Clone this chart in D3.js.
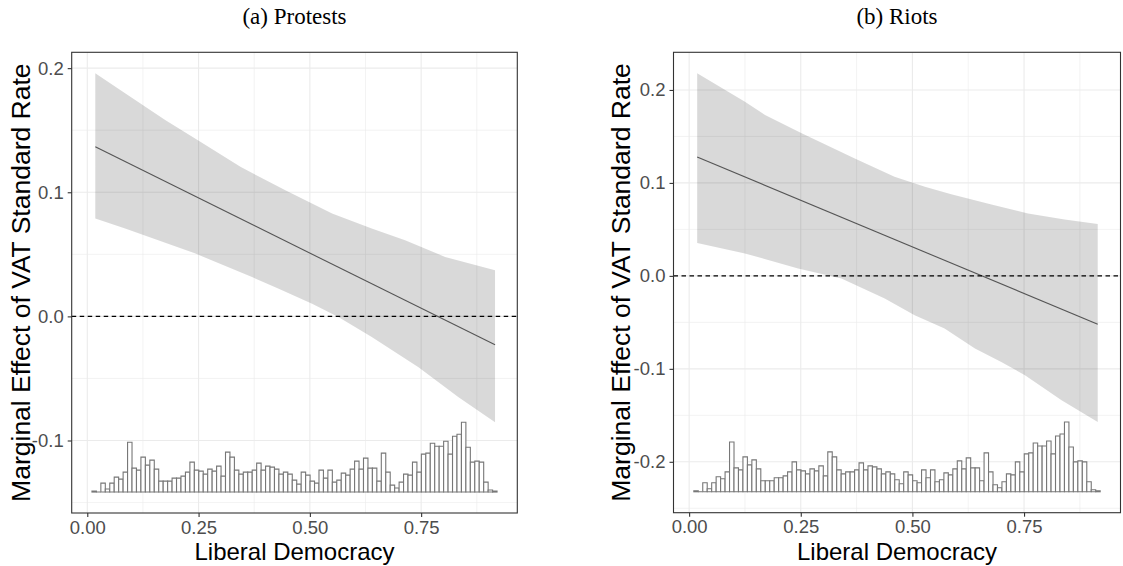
<!DOCTYPE html>
<html>
<head>
<meta charset="utf-8">
<script src="https://cdn.jsdelivr.net/npm/d3@7"></script>
<style>
  html, body { margin: 0; padding: 0; background: #ffffff; }
  svg { display: block; }
</style>
</head>
<body>
<svg id="chart" width="1123" height="566"></svg>
<script>
// Distribution of Liberal Democracy in the sample (0.01-wide bins), shared by both panels
const histBinStart = 0.0105;
const histBinWidth = 0.01;
const histCounts = [
  1, 0, 9, 3, 9, 15, 13, 20, 50, 24,
  22, 35, 27, 32, 23, 11, 11, 11, 14, 14,
  16, 20, 30, 22, 21, 18, 23, 21, 26, 16,
  40, 35, 22, 18, 20, 20, 22, 29, 22, 26,
  25, 23, 18, 20, 18, 12, 8, 20, 17, 11,
  9, 22, 14, 22, 10, 12, 19, 17, 23, 31,
  23, 34, 24, 24, 11, 39, 20, 7, 4, 10,
  18, 17, 30, 20, 38, 39, 49, 46, 46, 51,
  38, 56, 58, 70, 45, 30, 31, 30, 10, 2,
  1
];

const xTicks = [0, 0.25, 0.5, 0.75];
const xTickLabels = ["0.00", "0.25", "0.50", "0.75"];
const xMinorTicks = [0.125, 0.375, 0.625, 0.875];
const xAxisTitle = "Liberal Democracy";
const yAxisTitle = "Marginal Effect of VAT Standard Rate";

// (a) Protests: marginal effect and 95% confidence band
const protestsTitle = "(a) Protests";
const protestsEffect = [[0.018, 0.1366], [0.916, -0.0229]];
const protestsUpper = [
  [0.018, 0.1959], [0.085, 0.1797], [0.175, 0.1582], [0.254, 0.1407],
  [0.344, 0.1205], [0.445, 0.1017], [0.550, 0.0829], [0.639, 0.0708],
  [0.714, 0.0613], [0.804, 0.0479], [0.916, 0.0371]
];
const protestsLower = [
  [0.018, 0.0788], [0.085, 0.0708], [0.243, 0.0506], [0.370, 0.0317],
  [0.430, 0.0223], [0.505, 0.0102], [0.564, -0.0005], [0.639, -0.0167],
  [0.744, -0.0409], [0.834, -0.0651], [0.916, -0.0853]
];
const protestsYTicks = [-0.1, 0, 0.1, 0.2];
const protestsYTickLabels = ["-0.1", "0.0", "0.1", "0.2"];
const protestsYMinor = [-0.15, -0.05, 0.05, 0.15];

// (b) Riots: marginal effect and 95% confidence band
const riotsTitle = "(b) Riots";
const riotsEffect = [[0.018, 0.1278], [0.915, -0.0520]];
const riotsUpper = [
  [0.018, 0.2180], [0.125, 0.1874], [0.170, 0.1731], [0.252, 0.1534],
  [0.371, 0.1264], [0.460, 0.1066], [0.528, 0.0959], [0.587, 0.0877],
  [0.677, 0.0769], [0.759, 0.0672], [0.841, 0.0607], [0.915, 0.0557]
];
const riotsLower = [
  [0.018, 0.0355], [0.125, 0.0241], [0.244, 0.0080], [0.341, -0.0028],
  [0.438, -0.0243], [0.505, -0.0423], [0.572, -0.0567], [0.640, -0.0782],
  [0.699, -0.0926], [0.752, -0.1069], [0.834, -0.1339], [0.915, -0.1572]
];
const riotsYTicks = [-0.2, -0.1, 0, 0.1, 0.2];
const riotsYTickLabels = ["-0.2", "-0.1", "0.0", "0.1", "0.2"];
const riotsYMinor = [-0.25, -0.15, -0.05, 0.05, 0.15];

const panels = [
  {
    title: protestsTitle, effect: protestsEffect, upper: protestsUpper, lower: protestsLower,
    yTicks: protestsYTicks, yTickLabels: protestsYTickLabels, yMinor: protestsYMinor,
    box: { left: 71.7, right: 517.3, top: 52.3, bottom: 513 }, yTitleX: 29.5
  },
  {
    title: riotsTitle, effect: riotsEffect, upper: riotsUpper, lower: riotsLower,
    yTicks: riotsYTicks, yTickLabels: riotsYTickLabels, yMinor: riotsYMinor,
    box: { left: 673.5, right: 1120.5, top: 52.3, bottom: 512.7 }, yTitleX: 629.5
  }
];

const svg = d3.select("#chart");
const sans = "'Liberation Sans', Arial, Helvetica, sans-serif";
const serif = "'Liberation Serif', 'Times New Roman', serif";

function expand(lo, hi, f) {
  const pad = (hi - lo) * f;
  return [lo - pad, hi + pad];
}

panels.forEach(p => {
  const b = p.box;
  const g = svg.append("g");

  // band extremes; the histogram sits just below the band, 20% of its height
  const bandHi = d3.max(p.upper, d => d[1]);
  const bandLo = d3.min(p.lower, d => d[1]);
  const histBase = bandLo - 0.2 * (bandHi - bandLo);
  const histScale = d3.scaleLinear().domain([0, d3.max(histCounts)]).range([histBase, bandLo]);

  const binEdges = histCounts.map((c, i) => histBinStart + i * histBinWidth);
  const xLo = Math.min(binEdges[0], d3.min(p.upper, d => d[0]));
  const xHi = Math.max(binEdges[binEdges.length - 1] + histBinWidth, d3.max(p.upper, d => d[0]));

  const x = d3.scaleLinear().domain(expand(xLo, xHi, 0.05)).range([b.left, b.right]);
  const y = d3.scaleLinear().domain(expand(histBase, bandHi, 0.05)).range([b.bottom, b.top]);

  // grid
  const grid = g.append("g");
  grid.selectAll(".xminor").data(xMinorTicks).join("line")
    .attr("x1", d => x(d)).attr("x2", d => x(d)).attr("y1", b.top).attr("y2", b.bottom)
    .attr("stroke", "#ebebeb").attr("stroke-width", 0.6);
  grid.selectAll(".yminor").data(p.yMinor).join("line")
    .attr("x1", b.left).attr("x2", b.right).attr("y1", d => y(d)).attr("y2", d => y(d))
    .attr("stroke", "#ebebeb").attr("stroke-width", 0.6);
  grid.selectAll(".xmajor").data(xTicks).join("line")
    .attr("x1", d => x(d)).attr("x2", d => x(d)).attr("y1", b.top).attr("y2", b.bottom)
    .attr("stroke", "#ebebeb").attr("stroke-width", 1.1);
  grid.selectAll(".ymajor").data(p.yTicks).join("line")
    .attr("x1", b.left).attr("x2", b.right).attr("y1", d => y(d)).attr("y2", d => y(d))
    .attr("stroke", "#ebebeb").attr("stroke-width", 1.1);

  // confidence band
  const band = p.upper.concat(p.lower.slice().reverse());
  g.append("path")
    .attr("d", d3.line().x(d => x(d[0])).y(d => y(d[1]))(band) + "Z")
    .attr("fill", "#000000").attr("fill-opacity", 0.15).attr("stroke", "none");

  // marginal effect
  g.append("path")
    .attr("d", d3.line().x(d => x(d[0])).y(d => y(d[1]))(p.effect))
    .attr("fill", "none").attr("stroke", "#555555").attr("stroke-width", 1.1);

  // zero reference
  g.append("line")
    .attr("x1", b.left).attr("x2", b.right).attr("y1", y(0)).attr("y2", y(0))
    .attr("stroke", "#000000").attr("stroke-width", 1.1).attr("stroke-dasharray", "4.5,3.5");

  // histogram of Liberal Democracy
  g.append("g").selectAll("path").data(histCounts).join("path")
    .attr("d", (c, i) => {
      const x0 = x(binEdges[i]), x1 = x(binEdges[i] + histBinWidth);
      const yb = y(histBase), yt = y(histScale(c));
      return `M${x0},${yb}V${yt}H${x1}V${yb}Z`;
    })
    .attr("fill", "#ffffff").attr("stroke", "#777777").attr("stroke-width", 1.1);

  // panel border
  g.append("rect")
    .attr("x", b.left).attr("y", b.top).attr("width", b.right - b.left).attr("height", b.bottom - b.top)
    .attr("fill", "none").attr("stroke", "#333333").attr("stroke-width", 1.1);

  // x axis
  const xAxis = g.append("g").attr("transform", `translate(0,${b.bottom})`)
    .call(d3.axisBottom(x).tickValues(xTicks).tickSize(4).tickPadding(3.5)
      .tickFormat((d, i) => xTickLabels[i]));
  xAxis.select(".domain").remove();
  xAxis.selectAll("line").attr("stroke", "#333333").attr("stroke-width", 1.1);
  xAxis.selectAll("text").attr("fill", "#4d4d4d").style("font-family", sans).style("font-size", "18.5px");

  // y axis
  const yAxis = g.append("g").attr("transform", `translate(${b.left},0)`)
    .call(d3.axisLeft(y).tickValues(p.yTicks).tickSize(4).tickPadding(4)
      .tickFormat((d, i) => p.yTickLabels[i]));
  yAxis.select(".domain").remove();
  yAxis.selectAll("line").attr("stroke", "#333333").attr("stroke-width", 1.1);
  yAxis.selectAll("text").attr("fill", "#4d4d4d").style("font-family", sans).style("font-size", "18.5px");

  const cx = (b.left + b.right) / 2;
  // axis titles
  g.append("text").attr("x", cx).attr("y", 560).attr("text-anchor", "middle")
    .style("font-family", sans).style("font-size", "24px").attr("fill", "#000000")
    .text(xAxisTitle);
  g.append("text")
    .attr("transform", `translate(${p.yTitleX},${(b.top + b.bottom) / 2}) rotate(-90)`)
    .attr("text-anchor", "middle")
    .style("font-family", sans).style("font-size", "26.5px").attr("fill", "#000000")
    .text(yAxisTitle);

  // panel caption
  g.append("text").attr("x", cx).attr("y", 24).attr("text-anchor", "middle")
    .style("font-family", serif).style("font-size", "23px").attr("fill", "#000000")
    .text(p.title);
});
</script>
</body>
</html>
